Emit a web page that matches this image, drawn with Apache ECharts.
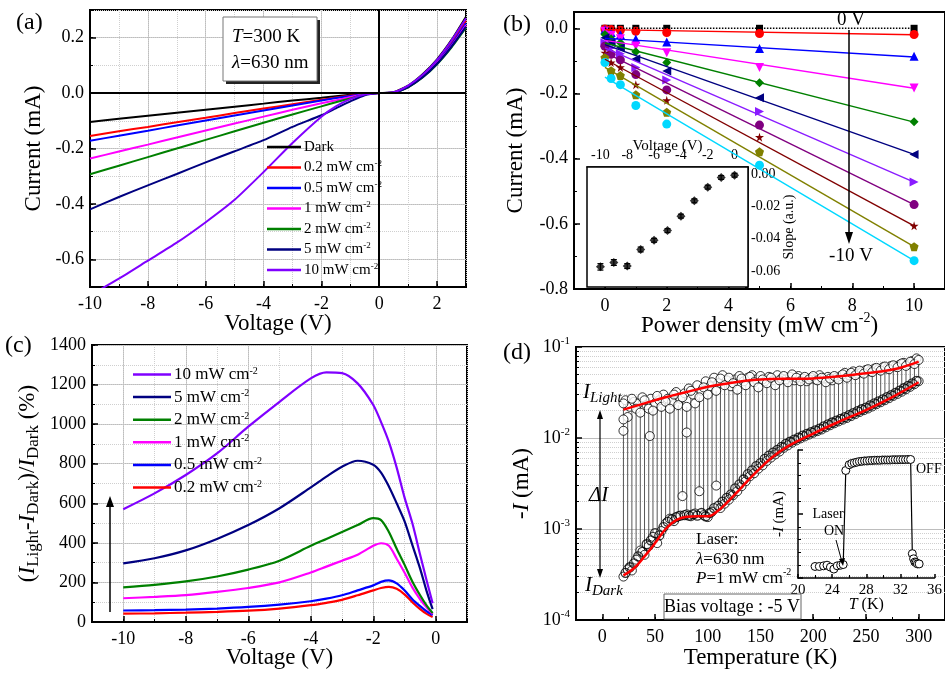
<!DOCTYPE html>
<html>
<head>
<meta charset="utf-8">
<title>Photoresponse panels</title>
<script src="https://cdn.jsdelivr.net/npm/echarts@6/dist/echarts.min.js"></script>
<style>
html, body { margin: 0; padding: 0; background: #fff; }
#main { width: 945px; height: 673px; }
</style>
</head>
<body>
<div id="main"></div>
<script>
var FONT = 'Liberation Serif';

// (a) I-V at 300 K
var vA = [-10, -9, -8, -7, -6, -5, -4, -3, -2, -1.5, -1, -0.5, 0, 0.5, 1, 1.5, 2, 2.5, 3];
var aDark = [-0.104, -0.093, -0.082, -0.071, -0.060, -0.049, -0.038, -0.027, -0.017, -0.011, -0.006, -0.002, 0, 0.003, 0.027, 0.068, 0.122, 0.192, 0.276];
var a02 = [-0.155, -0.138, -0.122, -0.105, -0.089, -0.072, -0.056, -0.040, -0.024, -0.016, -0.009, -0.003, 0, 0.002, 0.024, 0.062, 0.114, 0.180, 0.262];
var a05 = [-0.172, -0.154, -0.136, -0.117, -0.099, -0.081, -0.063, -0.045, -0.027, -0.018, -0.010, -0.003, 0, 0.002, 0.023, 0.060, 0.111, 0.175, 0.252];
var a1 = [-0.236, -0.211, -0.186, -0.160, -0.135, -0.110, -0.085, -0.060, -0.037, -0.026, -0.014, -0.004, 0, 0.002, 0.022, 0.058, 0.108, 0.170, 0.245];
var a2 = [-0.293, -0.262, -0.231, -0.200, -0.169, -0.138, -0.107, -0.077, -0.048, -0.033, -0.019, -0.005, 0, 0.002, 0.021, 0.056, 0.104, 0.165, 0.236];
var a5 = [-0.420, -0.375, -0.333, -0.292, -0.250, -0.210, -0.170, -0.122, -0.080, -0.055, -0.030, -0.008, 0, 0.002, 0.022, 0.057, 0.106, 0.168, 0.240];
var a10 = [-0.730, -0.670, -0.605, -0.540, -0.466, -0.385, -0.285, -0.180, -0.085, -0.048, -0.022, -0.005, 0, 0.003, 0.027, 0.066, 0.120, 0.190, 0.270];

var names = ['Dark', '0.2 mW cm-2', '0.5 mW cm-2', '1 mW cm-2', '2 mW cm-2', '5 mW cm-2', '10 mW cm-2'];
var colors = ['#000000', '#ff0000', '#0000ff', '#ff00ff', '#008000', '#000080', '#8000ff'];

// (b) current vs power density, 0 V ... -10 V
var bPower = [0, 0.2, 0.5, 1, 2, 5, 10];
var b0 = [0, 0, 0, 0, 0, 0, 0];
var b1 = [-0.002, -0.004, -0.006, -0.009, -0.013, -0.016, -0.019];
var b2 = [-0.004, -0.013, -0.019, -0.033, -0.042, -0.062, -0.086];
var b3 = [-0.009, -0.022, -0.032, -0.054, -0.075, -0.120, -0.183];
var b4 = [-0.019, -0.032, -0.044, -0.072, -0.105, -0.167, -0.287];
var b5 = [-0.029, -0.044, -0.060, -0.094, -0.131, -0.213, -0.387];
var b6 = [-0.044, -0.060, -0.078, -0.120, -0.159, -0.255, -0.472];
var b7 = [-0.055, -0.080, -0.097, -0.142, -0.189, -0.297, -0.541];
var b8 = [-0.075, -0.105, -0.120, -0.173, -0.221, -0.334, -0.606];
var b9 = [-0.090, -0.130, -0.145, -0.204, -0.258, -0.379, -0.670];
var b10 = [-0.105, -0.154, -0.173, -0.237, -0.294, -0.420, -0.713];
var bFitP = [0, 10];
var bFitStart = [0, -0.004, -0.031, -0.037, -0.045, -0.050, -0.060, -0.075, -0.095, -0.120, -0.150];
var bFitEnd = [0, -0.020, -0.088, -0.184, -0.288, -0.387, -0.472, -0.541, -0.606, -0.670, -0.713];
var bColors = ['#000000', '#ff0000', '#0000ff', '#ff00ff', '#008000', '#000080', '#8a1cff', '#800080', '#800000', '#808000', '#00d8ff'];

// (b) inset: slope vs voltage
var insV = [-10, -9, -8, -7, -6, -5, -4, -3, -2, -1, 0];
var insSlope = [-0.0575, -0.0548, -0.0570, -0.0467, -0.0410, -0.0350, -0.0260, -0.0165, -0.0080, -0.0020, -0.0006];
var insErr = [0.0020, 0.0018, 0.0015, 0.0015, 0.0012, 0.0012, 0.0012, 0.0012, 0.0012, 0.0012, 0.0012];

// (c) relative photoresponse
var vC = [-10, -9, -8, -7, -6, -5, -4, -3.5, -3, -2.5, -2, -1.75, -1.5, -1.25, -1, -0.75, -0.5, -0.3, -0.1];
var c10 = [570, 650, 743, 852, 987, 1113, 1231, 1262, 1258, 1206, 1097, 1010, 910, 780, 630, 500, 340, 215, 95];
var c5 = [296, 322, 362, 420, 490, 575, 680, 735, 785, 815, 795, 755, 685, 600, 510, 390, 270, 160, 65];
var c2 = [175, 188, 205, 230, 265, 310, 385, 420, 455, 490, 525, 515, 455, 370, 290, 205, 135, 85, 45];
var c1 = [120, 127, 136, 152, 172, 200, 250, 280, 310, 340, 385, 398, 385, 320, 250, 175, 115, 75, 40];
var c05 = [58, 60, 63, 68, 76, 88, 105, 118, 135, 160, 185, 203, 210, 195, 160, 115, 80, 55, 35];
var c02 = [42, 44, 47, 51, 57, 68, 85, 97, 112, 135, 160, 172, 178, 168, 140, 100, 65, 42, 25];

// (d) temperature dependence at -5 V
var temps = [20, 24, 28, 32, 36, 40, 44, 48, 52, 56, 60, 64, 68, 72, 76, 80, 84, 88, 92, 96,
  100, 104, 108, 112, 116, 120, 124, 128, 132, 136, 140, 144, 148, 152, 156, 160, 164, 168, 172, 176,
  180, 184, 188, 192, 196, 200, 204, 208, 212, 216, 220, 224, 228, 232, 236, 240, 244, 248, 252, 256,
  260, 264, 268, 272, 276, 280, 284, 288, 292, 296, 300];
var iLight = [0.024, 0.017, 0.027, 0.021, 0.019, 0.026, 0.021, 0.020, 0.029, 0.022, 0.025, 0.021, 0.030, 0.023, 0.028, 0.022, 0.033, 0.024, 0.028, 0.036,
  0.030, 0.041, 0.033, 0.045, 0.038, 0.046, 0.040, 0.034, 0.045, 0.038, 0.047, 0.041, 0.036, 0.044, 0.040, 0.046, 0.038, 0.043, 0.048, 0.041,
  0.050, 0.046, 0.042, 0.047, 0.044, 0.048, 0.043, 0.046, 0.041, 0.045, 0.048, 0.044, 0.050, 0.046, 0.052, 0.049, 0.055, 0.051, 0.057, 0.053,
  0.059, 0.055, 0.061, 0.057, 0.063, 0.060, 0.066, 0.062, 0.069, 0.065, 0.072];
var iDark = [0.00030, 0.00036, 0.00035, 0.00046, 0.00058, 0.00052, 0.00065, 0.00082, 0.00070, 0.00095, 0.00115, 0.00130, 0.00122, 0.00138, 0.0023, 0.00145, 0.00138, 0.00148, 0.0026, 0.00142,
  0.00135, 0.00155, 0.0030, 0.0017, 0.0019, 0.0021, 0.00235, 0.0026, 0.00295, 0.00335, 0.0038, 0.0041, 0.0046, 0.0050, 0.0056, 0.0061, 0.0066, 0.0071, 0.0078, 0.0083,
  0.0089, 0.0094, 0.0099, 0.0104, 0.0109, 0.0114, 0.0119, 0.0124, 0.0131, 0.0138, 0.0145, 0.0152, 0.0159, 0.0166, 0.0174, 0.0183, 0.0193, 0.0202, 0.0211, 0.0222,
  0.0235, 0.0247, 0.0260, 0.0274, 0.0290, 0.0305, 0.0323, 0.0343, 0.0365, 0.0390, 0.0420];
// in-between readings (circles only, no drop lines)
var tempsMid = [22, 26, 30, 34, 38, 42, 46, 50, 54, 58, 62, 66, 70, 74, 78, 82, 86, 90, 94, 98,
  102, 106, 110, 114, 118, 122, 126, 130, 134, 138, 142, 146, 150, 154, 158, 162, 166, 170, 174, 178,
  182, 186, 190, 194, 198, 202, 206, 210, 214, 218, 222, 226, 230, 234, 238, 242, 246, 250, 254, 258,
  262, 266, 270, 274, 278, 282, 286, 290, 294, 298];
var lightMid = [0.026, 0.022, 0.025, 0.024, 0.028, 0.023, 0.027, 0.024, 0.026, 0.030, 0.027, 0.025, 0.032, 0.027, 0.031, 0.035, 0.030, 0.038, 0.033, 0.042,
  0.037, 0.046, 0.040, 0.049, 0.043, 0.037, 0.044, 0.048, 0.042, 0.046, 0.049, 0.044, 0.048, 0.042, 0.047, 0.043, 0.049, 0.045, 0.044, 0.047,
  0.043, 0.048, 0.045, 0.042, 0.046, 0.044, 0.049, 0.045, 0.047, 0.043, 0.046, 0.048, 0.052, 0.049, 0.054, 0.051, 0.053, 0.056, 0.054, 0.058,
  0.057, 0.060, 0.058, 0.062, 0.061, 0.064, 0.067, 0.065, 0.070, 0.075];
var darkMid = [0.00033, 0.00038, 0.00042, 0.00050, 0.00056, 0.00068, 0.00075, 0.00090, 0.00085, 0.00105, 0.00120, 0.00128, 0.00135, 0.00140, 0.00142, 0.00140, 0.00145, 0.00140, 0.00150, 0.00138,
  0.00150, 0.00170, 0.0018, 0.0020, 0.0022, 0.0024, 0.0028, 0.0031, 0.0035, 0.0040, 0.0044, 0.0049, 0.0053, 0.0059, 0.0064, 0.0069, 0.0074, 0.0080, 0.0086, 0.0091,
  0.0096, 0.0101, 0.0106, 0.0111, 0.0116, 0.0121, 0.0127, 0.0134, 0.0141, 0.0148, 0.0155, 0.0162, 0.0170, 0.0178, 0.0188, 0.0197, 0.0207, 0.0216, 0.0228, 0.0240,
  0.0252, 0.0266, 0.0281, 0.0296, 0.0313, 0.0332, 0.0352, 0.0374, 0.0398, 0.0424];
var outT = [20, 20, 45, 80];
var outLight = [0.012, 0.016, 0.0105, 0.0115];
var fitLT = [20, 40, 60, 80, 100, 120, 140, 160, 180, 200, 220, 240, 260, 280, 300];
var fitLight = [0.0205, 0.024, 0.028, 0.032, 0.0365, 0.040, 0.043, 0.0445, 0.0448, 0.0452, 0.047, 0.050, 0.053, 0.058, 0.069];
var fitDT = [20, 30, 40, 50, 60, 70, 80, 90, 100, 110, 120, 130, 140, 150, 160, 175, 200, 225, 250, 275, 300];
var fitDark = [0.00031, 0.00037, 0.00050, 0.00070, 0.00100, 0.00125, 0.00136, 0.00138, 0.00138, 0.0016, 0.00205, 0.0027, 0.0036, 0.0047, 0.0060, 0.0080, 0.0112, 0.0152, 0.0203, 0.0282, 0.041];

// (d) inset: laser on/off at low T
var insT = [22, 22.5, 23, 23.4, 23.8, 24.2, 24.6, 25, 25.3, 25.6, 26, 26.3, 26.6, 26.9, 27.2, 27.5, 27.8, 28.1, 28.4, 28.7,
  29, 29.3, 29.6, 29.9, 30.2, 30.5, 30.8, 31.1, 31.4, 31.7, 32, 32.3, 32.6, 32.9, 33.2, 33.4, 33.55, 33.7, 33.85, 34, 34.2];
var insI = [0.09, 0.09, 0.095, 0.10, 0.085, 0.07, 0.095, 0.10, 0.105, 0.84, 0.885, 0.895, 0.90, 0.905, 0.91, 0.912, 0.915, 0.915, 0.918, 0.918,
  0.92, 0.92, 0.92, 0.922, 0.922, 0.922, 0.922, 0.924, 0.924, 0.924, 0.925, 0.925, 0.925, 0.926, 0.926, 0.19, 0.15, 0.125, 0.12, 0.11, 0.11];

function rich(size) {
  var s = Math.round(size * 0.6);
  var b = Math.round(size * 0.72);
  return {
    i: { fontFamily: FONT, fontStyle: 'italic', fontSize: size, lineHeight: size + 6, color: '#000' },
    sup: { fontFamily: FONT, fontSize: s, lineHeight: s, verticalAlign: 'top', color: '#000' },
    sub: { fontFamily: FONT, fontSize: b, lineHeight: b, verticalAlign: 'bottom', color: '#000' },
    isub: { fontFamily: FONT, fontStyle: 'italic', fontSize: b, lineHeight: b, verticalAlign: 'bottom', color: '#000' }
  };
}

function mainAxis(o) {
  var ns = o.nameSize || 23;
  var ls = o.size || 18;
  return {
    type: o.type || 'value', gridIndex: o.grid, position: o.pos, min: o.min, max: o.max, interval: o.interval,
    name: o.name || '', nameLocation: 'middle', nameGap: o.gap || 25, nameRotate: o.rotate, nameMoveOverlap: false,
    nameTextStyle: { fontFamily: FONT, fontSize: ns, lineHeight: ns + 6, color: '#000', rich: rich(ns) },
    axisLine: { show: o.line !== false, onZero: false, lineStyle: { color: '#000', width: o.lw || 2 } },
    axisTick: { show: true, inside: true, length: o.tick || 6, customValues: o.ticks, lineStyle: { color: '#000', width: 1.5 } },
    axisLabel: { show: o.labels !== false, customValues: o.ticks, margin: o.margin || 6, fontFamily: FONT, fontSize: ls, lineHeight: ls + 4, color: '#000', formatter: o.fmt, rich: rich(ls) },
    minorTick: o.minor ? { show: true, splitNumber: o.minor, length: 3, lineStyle: { color: '#000' } } : { show: false },
    splitLine: { show: !!o.split, lineStyle: { color: '#bdbdbd', width: 1 } },
    minorSplitLine: { show: !!o.minorSplit, lineStyle: { color: '#cfcfcf', type: 'dotted' } }
  };
}

function minorAxis(grid, pos, min, max, step, dotted) {
  return {
    type: 'value', gridIndex: grid, position: pos, min: min, max: max, interval: step,
    axisLine: { show: false, onZero: false }, axisLabel: { show: false },
    axisTick: { show: true, inside: true, length: 3, lineStyle: { color: '#000', width: 1 } },
    splitLine: { show: !!dotted, lineStyle: { color: '#cfcfcf', type: 'dotted', width: 1 } }
  };
}

function fixed(d) { return function (v) { return v.toFixed(d); }; }

var xAxes = [
  mainAxis({ grid: 0, pos: 'bottom', min: -10, max: 3, ticks: [-10, -8, -6, -4, -2, 0, 2], split: true, name: 'Voltage (V)', gap: 22 }),
  minorAxis(0, 'bottom', -10, 3, 1, true),
  mainAxis({ grid: 1, pos: 'bottom', min: -1, max: 11, ticks: [0, 2, 4, 6, 8, 10], name: 'Power density (mW cm{sup|-2})', gap: 22 }),
  minorAxis(1, 'bottom', -1, 11, 1, false),
  mainAxis({ grid: 2, pos: 'top', min: -11, max: 1, ticks: [-10, -8, -6, -4, -2, 0], size: 14, lw: 1.5, tick: 4, margin: 3, name: 'Voltage (V)', nameSize: 15, gap: 10 }),
  minorAxis(2, 'top', -11, 1, 1, false),
  mainAxis({ grid: 3, pos: 'bottom', min: -11, max: 1, ticks: [-10, -8, -6, -4, -2, 0], split: true, name: 'Voltage (V)', gap: 21 }),
  minorAxis(3, 'bottom', -11, 1, 1, true),
  mainAxis({ grid: 4, pos: 'bottom', min: -25, max: 325, ticks: [0, 50, 100, 150, 200, 250, 300], name: 'Temperature (K)', gap: 23 }),
  minorAxis(4, 'bottom', -25, 325, 25, false),
  mainAxis({ grid: 5, pos: 'bottom', min: 20, max: 36, interval: 4, minor: 2, size: 15, lw: 1.5, tick: 4, margin: 3, name: '{i|T} (K)', nameSize: 16, gap: 16 })
];

var yAxes = [
  mainAxis({ grid: 0, pos: 'left', min: -0.7, max: 0.3, ticks: [-0.6, -0.4, -0.2, 0, 0.2], fmt: fixed(1), split: true, name: 'Current (mA)', gap: 42 }),
  minorAxis(0, 'left', -0.7, 0.3, 0.1, true),
  mainAxis({ grid: 1, pos: 'left', min: -0.8, max: 0.05, ticks: [-0.8, -0.6, -0.4, -0.2, 0], fmt: fixed(1), name: 'Current (mA)', gap: 44 }),
  minorAxis(1, 'left', -0.8, 0.05, 0.1, false),
  mainAxis({ grid: 2, pos: 'right', min: -0.07, max: 0.0045, ticks: [-0.06, -0.04, -0.02, 0], fmt: fixed(2), size: 14, lw: 1.5, tick: 4, margin: 3, name: 'Slope (a.u.)', nameSize: 14, gap: 31, rotate: 90 }),
  minorAxis(2, 'right', -0.07, 0.0045, 0.01, false),
  mainAxis({ grid: 3, pos: 'left', min: 0, max: 1400, interval: 200, fmt: fixed(0), split: true, name: '({i|I}{sub|Light}-{i|I}{sub|Dark})/{i|I}{sub|Dark} (%)', gap: 50 }),
  minorAxis(3, 'left', 0, 1400, 100, true),
  mainAxis({ type: 'log', grid: 4, pos: 'left', min: 0.0001, max: 0.1, minor: 9, split: true, minorSplit: true,
    fmt: function (v) { return '10{sup|' + Math.round(Math.log(v) / Math.LN10) + '}'; }, name: '-{i|I} (mA)', gap: 40 }),
  mainAxis({ grid: 5, pos: 'left', min: 0, max: 1, interval: 0.5, minor: 5, labels: false, lw: 1.5, tick: 5, name: '-{i|I} (mA)', nameSize: 15, gap: 8 })
];

var series = [];
var aSets = [aDark, a02, a05, a1, a2, a5, a10];
aSets.forEach(function (arr, k) {
  var s = {
    type: 'line', name: names[k], xAxisIndex: 0, yAxisIndex: 0, symbol: 'none', smooth: 0.2,
    color: colors[k], lineStyle: { color: colors[k], width: 2 },
    data: vA.map(function (v, i) { return [v, arr[i]]; })
  };
  if (k === 0) {
    s.markLine = { silent: true, symbol: 'none', label: { show: false }, lineStyle: { color: '#000', width: 2, type: 'solid' },
      data: [{ xAxis: 0 }, { yAxis: 0 }] };
  }
  series.push(s);
});

var star = 'path://M50,0 L61,35 L98,35 L68,57 L79,91 L50,70 L21,91 L32,57 L2,35 L39,35 Z';
var pent = 'path://M50,0 L98,35 L79,91 L21,91 L2,35 Z';
var bSymbols = ['rect', 'circle', 'triangle', 'triangle', 'diamond', 'triangle', 'triangle', 'circle', star, pent, 'circle'];
var bRotate = [0, 0, 0, 180, 0, 90, -90, 0, 0, 0, 0];
var bSets = [b0, b1, b2, b3, b4, b5, b6, b7, b8, b9, b10];
bSets.forEach(function (arr, k) {
  series.push({
    type: 'line', name: 'fit ' + k, xAxisIndex: 2, yAxisIndex: 2, symbol: 'none',
    lineStyle: { color: bColors[k], width: k === 0 ? 1.5 : 1.4, type: k === 0 ? 'dotted' : 'solid' },
    data: bFitP.map(function (p, i) { return [p, i === 0 ? bFitStart[k] : bFitEnd[k]]; })
  });
  series.push({
    type: 'scatter', name: 'pts ' + k, xAxisIndex: 2, yAxisIndex: 2, symbol: bSymbols[k], symbolRotate: bRotate[k],
    symbolSize: bSymbols[k] === 'rect' ? 7 : 9, itemStyle: { color: bColors[k], opacity: 1 },
    data: bPower.map(function (p, i) { return [p, arr[i]]; })
  });
});

series.push({
  type: 'custom', xAxisIndex: 4, yAxisIndex: 4, z: 3,
  data: insV.map(function (v, i) { return [v, insSlope[i], insErr[i]]; }),
  renderItem: function (params, api) {
    var x = api.value(0), y = api.value(1), e = api.value(2);
    var t = api.coord([x, y + e]), b = api.coord([x, y - e]);
    var st = { stroke: '#000', lineWidth: 1.2 };
    return { type: 'group', children: [
      { type: 'line', shape: { x1: t[0], y1: t[1], x2: b[0], y2: b[1] }, style: st },
      { type: 'line', shape: { x1: t[0] - 3, y1: t[1], x2: t[0] + 3, y2: t[1] }, style: st },
      { type: 'line', shape: { x1: b[0] - 3, y1: b[1], x2: b[0] + 3, y2: b[1] }, style: st }
    ] };
  },
  encode: { x: 0, y: 1 }
});
series.push({
  type: 'scatter', xAxisIndex: 4, yAxisIndex: 4, symbol: 'diamond', symbolSize: 9, z: 4,
  itemStyle: { color: '#000' },
  data: insV.map(function (v, i) { return [v, insSlope[i]]; })
});

var cSets = [c02, c05, c1, c2, c5, c10];
cSets.forEach(function (arr, k) {
  series.push({
    type: 'line', name: names[k + 1], xAxisIndex: 6, yAxisIndex: 6, symbol: 'none', smooth: 0.3,
    color: colors[k + 1], lineStyle: { color: colors[k + 1], width: 2.2 },
    data: vC.map(function (v, i) { return [v, arr[i]]; })
  });
});

series.push({
  type: 'custom', xAxisIndex: 8, yAxisIndex: 8, z: 1,
  data: temps.map(function (t, i) { return [t, iDark[i], iLight[i]]; }),
  renderItem: function (params, api) {
    var p0 = api.coord([api.value(0), api.value(1)]);
    var p1 = api.coord([api.value(0), api.value(2)]);
    return { type: 'line', shape: { x1: p0[0], y1: p0[1], x2: p1[0], y2: p1[1] }, style: { stroke: '#444', lineWidth: 0.9 } };
  },
  encode: { x: 0, y: [1, 2] }
});
var ring = { color: '#fff', borderColor: '#000', borderWidth: 1 };
var hollow = { color: 'rgba(255,255,255,0)', borderColor: '#000', borderWidth: 1.3 };
function ringSeries(ts, vals, style) {
  return { type: 'scatter', xAxisIndex: 8, yAxisIndex: 8, symbolSize: 9, itemStyle: style, z: 2,
    data: ts.map(function (t, i) { return [t, vals[i]]; }) };
}
series.push(ringSeries(tempsMid, lightMid, ring));
series.push(ringSeries(temps, iLight, ring));
series.push(ringSeries(outT, outLight, ring));
series.push(ringSeries(temps, iDark, ring));
series.push(ringSeries(tempsMid, darkMid, hollow));
series.push({ type: 'line', xAxisIndex: 8, yAxisIndex: 8, symbol: 'none', smooth: 0.4, z: 5,
  lineStyle: { color: '#ff0000', width: 2.5 }, data: fitLT.map(function (t, i) { return [t, fitLight[i]]; }) });
series.push({ type: 'line', xAxisIndex: 8, yAxisIndex: 8, symbol: 'none', smooth: 0.4, z: 5,
  lineStyle: { color: '#ff0000', width: 2.5 }, data: fitDT.map(function (t, i) { return [t, fitDark[i]]; }) });

series.push({ type: 'line', xAxisIndex: 10, yAxisIndex: 9, symbol: 'circle', symbolSize: 8, z: 5,
  itemStyle: ring, lineStyle: { color: '#000', width: 1.2 },
  data: insT.map(function (t, i) { return [t, insI[i]]; }) });

function legendFmt(n) { return n.replace(' cm-2', ' cm{sup|-2}'); }

function txt(x, y, text, size, align, extra) {
  var st = { text: text, fontFamily: FONT, fontSize: size, fill: '#000', align: align || 'left', verticalAlign: 'middle', rich: rich(size) };
  if (extra) { for (var k in extra) { st[k] = extra[k]; } }
  return { type: 'text', x: x, y: y, z: 100, style: st };
}
function seg(x1, y1, x2, y2, w) {
  return { type: 'line', z: 100, shape: { x1: x1, y1: y1, x2: x2, y2: y2 }, style: { stroke: '#000', lineWidth: w || 1.3 } };
}
function head(pts) {
  return { type: 'polygon', z: 100, shape: { points: pts }, style: { fill: '#000' } };
}

var graphics = [
  txt(16, 23, '(a)', 24), txt(503, 25, '(b)', 24), txt(5, 346, '(c)', 24), txt(503, 353, '(d)', 24),
  { type: 'rect', z: 99, shape: { x: 226, y: 20, width: 94, height: 64 }, style: { fill: '#222' } },
  { type: 'rect', z: 99, shape: { x: 223, y: 17, width: 94, height: 64 }, style: { fill: '#fff', stroke: '#777', lineWidth: 1 } },
  txt(232, 37, '{i|T}=300 K', 19), txt(232, 63, '{i|λ}=630 nm', 19),
  txt(851, 20, '0 V', 19, 'center'), txt(851, 256, '-10 V', 19, 'center'),
  seg(849, 30, 849, 236, 1.5), head([[845, 232], [853, 232], [849, 244]]),
  seg(110, 612, 110, 504, 1.5), head([[106, 507], [114, 507], [110, 496]]),
  txt(583, 392, '{i|I}{isub|Light}', 21), txt(589, 495, '{i|ΔI}', 21), txt(585, 585, '{i|I}{isub|Dark}', 21),
  seg(600, 416, 600, 572, 1.2), head([[597, 419], [603, 419], [600, 410]]), head([[597, 569], [603, 569], [600, 578]]),
  txt(696, 540, 'Laser:', 17), txt(696, 560, '{i|λ}=630 nm', 17), txt(696, 579, '{i|P}=1 mW cm{sup|-2}', 17),
  { type: 'rect', z: 99, shape: { x: 664, y: 594, width: 137, height: 25 }, style: { fill: '#fff', stroke: '#666', lineWidth: 1 } },
  txt(732, 607, 'Bias voltage : -5 V', 18, 'center'),
  txt(828, 514, 'Laser', 14, 'center'), txt(834, 531, 'ON', 14, 'center'),
  seg(836, 540, 842, 562, 1), head([[839, 559], [845, 558], [843, 566]]),
  txt(916, 469, 'OFF', 14)
];

var option = {
  animation: false,
  backgroundColor: '#fff',
  textStyle: { fontFamily: FONT },
  grid: [
    { left: 90, top: 10, width: 376, height: 277, show: true, borderColor: '#000', borderWidth: 2, backgroundColor: 'transparent' },
    { left: 574, top: 12, width: 376, height: 277, show: true, borderColor: '#000', borderWidth: 2, backgroundColor: 'transparent' },
    { left: 587, top: 167, width: 161, height: 120, show: true, borderColor: '#000', borderWidth: 1.5, backgroundColor: '#fff', z: 3 },
    { left: 92, top: 345, width: 375, height: 277, show: true, borderColor: '#000', borderWidth: 2, backgroundColor: 'transparent' },
    { left: 576, top: 347, width: 374, height: 276, show: true, borderColor: '#000', borderWidth: 2, backgroundColor: 'transparent' },
    { left: 798, top: 450, width: 141, height: 128, show: false }
  ],
  legend: [
    { left: 262, top: 134, orient: 'vertical', icon: 'rect', itemWidth: 34, itemHeight: 2.5, itemGap: 4.5, selectedMode: false,
      data: names, formatter: legendFmt,
      textStyle: { fontFamily: FONT, fontSize: 15, lineHeight: 16, color: '#000', padding: [0, 0, 0, -2], rich: rich(15) } },
    { left: 128, top: 361, orient: 'vertical', icon: 'rect', itemWidth: 38, itemHeight: 2.5, itemGap: 5.6, selectedMode: false,
      data: names.slice(1).reverse(), formatter: legendFmt,
      textStyle: { fontFamily: FONT, fontSize: 17, lineHeight: 17, color: '#000', padding: [0, 0, 0, -2], rich: rich(17) } }
  ],
  xAxis: xAxes,
  yAxis: yAxes,
  series: series,
  graphic: graphics
};

var chart = echarts.init(document.getElementById('main'), null, { renderer: 'canvas' });
chart.setOption(option);
</script>
</body>
</html>
